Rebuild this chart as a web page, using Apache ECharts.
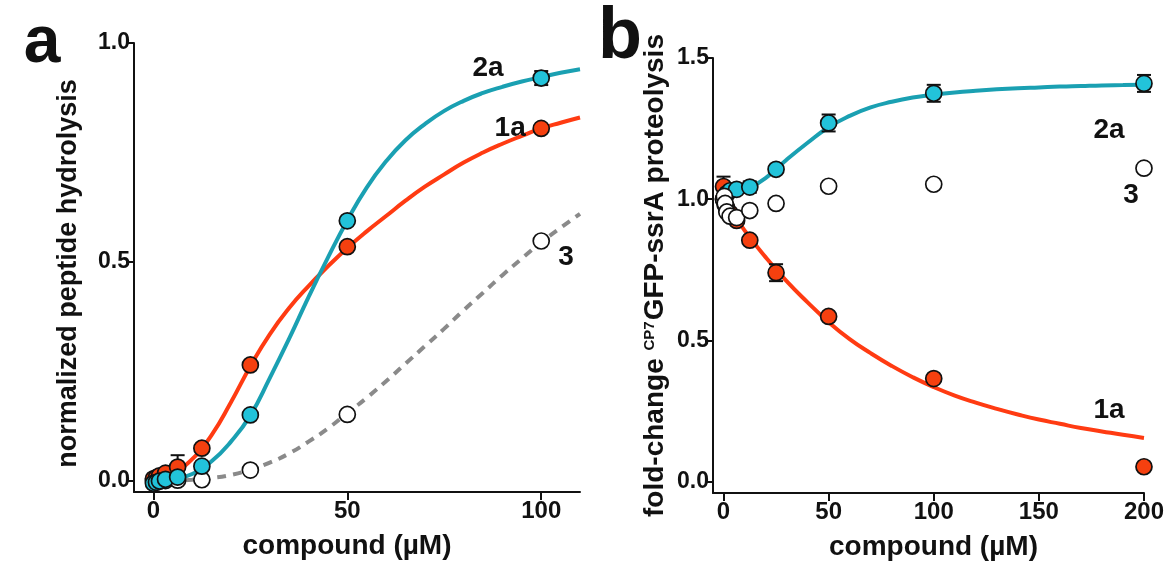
<!DOCTYPE html>
<html>
<head>
<meta charset="utf-8">
<script src="https://cdn.jsdelivr.net/npm/echarts@6/dist/echarts.min.js"></script>
<style>
  html, body { margin: 0; background: #fff; }
  #chart { width: 1167px; height: 568px; }
</style>
</head>
<body>
<div id="chart"></div>
<script>
// panel a: peptide hydrolysis
var aDose = [0, 0.78, 1.56, 3.125, 6.25, 12.5, 25, 50, 100];
var a1a = [0.005, 0.008, 0.012, 0.018, 0.032, 0.075, 0.265, 0.535, 0.805];
var a1aErr = [0, 0, 0, 0, 0.027, 0, 0, 0, 0];
var a2a = [-0.005, -0.003, 0.0, 0.004, 0.009, 0.034, 0.151, 0.594, 0.92];
var a2aErr = [0, 0, 0, 0, 0, 0, 0, 0, 0.016];
var a3 = [0, 0, 0, 0.001, 0.002, 0.003, 0.025, 0.152, 0.548];

// fitted curves
var aFitX = [0, 5, 10, 15, 20, 25, 30, 35, 40, 45, 50, 55, 60, 65, 70, 75, 80, 85, 90, 95, 100, 105, 110];
var aFit1a = [0, 0.018, 0.05, 0.105, 0.18, 0.262, 0.335, 0.395, 0.445, 0.49, 0.532, 0.57, 0.605, 0.64, 0.672, 0.7,
  0.727, 0.75, 0.77, 0.788, 0.805, 0.818, 0.83];
var aFit2a = [0, 0.004, 0.016, 0.045, 0.09, 0.15, 0.235, 0.325, 0.42, 0.51, 0.595, 0.67, 0.73, 0.778, 0.815, 0.845,
  0.868, 0.886, 0.9, 0.912, 0.922, 0.932, 0.94];
var aFit3 = [0, 0.001, 0.003, 0.007, 0.014, 0.026, 0.042, 0.063, 0.09, 0.12, 0.155, 0.19, 0.228, 0.268, 0.308, 0.348,
  0.39, 0.43, 0.47, 0.508, 0.545, 0.578, 0.61];

// panel b: fold-change proteolysis
var bDose = [0, 0.39, 0.78, 1.56, 3.125, 6.25, 12.5, 25, 50, 100, 200];
var b1a = [1.045, 1.0, 0.98, 0.97, 0.95, 0.925, 0.855, 0.74, 0.585, 0.365, 0.053];
var b1aErr = [0.035, 0, 0, 0, 0, 0, 0, 0.03, 0, 0, 0];
var b2a = [1.0, 1.0, 1.01, 1.02, 1.03, 1.035, 1.043, 1.106, 1.27, 1.375, 1.41];
var b2aErr = [0, 0, 0, 0, 0, 0, 0.02, 0, 0.03, 0.03, 0.03];
var b3 = [1.0, 1.01, 0.985, 0.955, 0.94, 0.935, 0.96, 0.985, 1.046, 1.053, 1.11];

var bFitX = [0, 10, 20, 30, 40, 50, 60, 70, 80, 90, 100, 110, 120, 130, 140, 150, 160, 170, 180, 190, 200];
var bFit1a = [1.0, 0.89, 0.795, 0.71, 0.635, 0.565, 0.505, 0.455, 0.41, 0.37, 0.335, 0.305, 0.28, 0.258, 0.238,
  0.22, 0.205, 0.19, 0.178, 0.166, 0.155];
var bFit2a = [1.0, 1.03, 1.075, 1.14, 1.2, 1.255, 1.295, 1.325, 1.345, 1.36, 1.37, 1.378, 1.384, 1.389, 1.393,
  1.396, 1.399, 1.401, 1.403, 1.404, 1.405];

// curve labels, in data units
var aLabels = [['2a', 86.3, 0.943], ['1a', 92, 0.806], ['3', 106.4, 0.511]];
var bLabels = [['2a', 183.4, 1.245], ['3', 193.9, 1.015], ['1a', 183.4, 0.254]];

var red = '#f5400f', redLine = '#ff3b12';
var cyan = '#22c3da', cyanLine = '#1aa0b2';
var font = '"Liberation Sans", Arial, sans-serif';

function pairs(xs, ys) {
  return xs.map(function (x, i) { return [x, ys[i]]; });
}

function errPts(xs, ys, es) {
  var out = [];
  xs.forEach(function (x, i) { if (es[i] > 0) out.push([x, ys[i], es[i]]); });
  return out;
}

function errBars(idx, pts) {
  return {
    type: 'custom', xAxisIndex: idx, yAxisIndex: idx, z: 3, silent: true,
    data: pts,
    renderItem: function (params, api) {
      var x = api.value(0), y = api.value(1), e = api.value(2);
      var t = api.coord([x, y + e]), b = api.coord([x, y - e]);
      var hw = 7, st = { stroke: '#111', lineWidth: 2 };
      return {
        type: 'group',
        children: [
          { type: 'line', shape: { x1: t[0], y1: t[1], x2: b[0], y2: b[1] }, style: st },
          { type: 'line', shape: { x1: t[0] - hw, y1: t[1], x2: t[0] + hw, y2: t[1] }, style: st },
          { type: 'line', shape: { x1: b[0] - hw, y1: b[1], x2: b[0] + hw, y2: b[1] }, style: st }
        ]
      };
    }
  };
}

function fit(idx, xs, ys, color, dashed) {
  return {
    type: 'line', xAxisIndex: idx, yAxisIndex: idx, z: 2,
    data: pairs(xs, ys), smooth: 0.5, showSymbol: false, silent: true,
    lineStyle: { color: color, width: 4, type: dashed ? [9, 7] : 'solid' }
  };
}

function dots(idx, xs, ys, fill, z) {
  return {
    type: 'scatter', xAxisIndex: idx, yAxisIndex: idx, z: z,
    data: pairs(xs, ys), symbolSize: 16,
    itemStyle: { color: fill, borderColor: '#111', borderWidth: 1.7, opacity: 1 }
  };
}

function tags(idx, list) {
  return {
    type: 'custom', xAxisIndex: idx, yAxisIndex: idx, z: 6, silent: true,
    data: list.map(function (l) { return [l[1], l[2], l[0]]; }),
    renderItem: function (params, api) {
      var p = api.coord([api.value(0), api.value(1)]);
      return {
        type: 'text', x: p[0], y: p[1],
        style: {
          text: list[params.dataIndex][0], font: 'bold 28px ' + font, fill: '#111',
          align: 'center', verticalAlign: 'middle'
        }
      };
    }
  };
}

var axisCommon = {
  axisLine: { show: true, onZero: false, lineStyle: { color: '#111', width: 2 } },
  axisTick: { show: true, length: 8, lineStyle: { color: '#111', width: 2 } },
  splitLine: { show: false },
  nameLocation: 'middle',
  nameTextStyle: { fontFamily: font, fontWeight: 'bold', fontSize: 28, color: '#111' }
};

function xAx(idx, min, max, ticks, pad) {
  return Object.assign({}, axisCommon, {
    type: 'value', gridIndex: idx, min: min, max: max,
    name: 'compound (µM)', nameGap: 40,
    nameTextStyle: Object.assign({}, axisCommon.nameTextStyle, { padding: pad }),
    axisTick: Object.assign({}, axisCommon.axisTick, { customValues: ticks }),
    axisLabel: {
      customValues: ticks, margin: 7, fontFamily: font, fontWeight: 'bold', fontSize: 24, color: '#111'
    }
  });
}

function yAx(idx, min, max, ticks, name, gap, style) {
  return Object.assign({}, axisCommon, {
    type: 'value', gridIndex: idx, min: min, max: max,
    name: name, nameGap: gap,
    nameTextStyle: Object.assign({}, axisCommon.nameTextStyle, style),
    axisTick: Object.assign({}, axisCommon.axisTick, { customValues: ticks }),
    axisLabel: {
      customValues: ticks, margin: 4, fontFamily: font, fontWeight: 'bold', fontSize: 23, color: '#111',
      formatter: function (v) { return v.toFixed(1); }
    }
  });
}

var chart = echarts.init(document.getElementById('chart'));
chart.setOption({
  animation: false,
  backgroundColor: '#fff',
  grid: [
    { left: 134, top: 43, width: 446, height: 449 },
    { left: 713, top: 58, width: 432, height: 435 }
  ],
  xAxis: [
    xAx(0, -5, 110, [0, 50, 100], [0, 20, 0, 0]),
    xAx(1, -5, 200, [0, 50, 100, 150, 200], [0, 0, 0, 10])
  ],
  yAxis: [
    yAx(0, -0.025, 1.0, [0, 0.5, 1.0], 'normalized peptide hydrolysis', 52,
      { fontSize: 27, padding: [0, 12, 0, 0] }),
    yAx(1, -0.04, 1.5, [0, 0.5, 1.0, 1.5], '{t|fold-change }{s|CP7}{t|GFP-ssrA proteolysis}', 44, {
      rich: {
        t: { fontFamily: font, fontWeight: 'bold', fontSize: 28, color: '#111' },
        s: { fontFamily: font, fontWeight: 'bold', fontSize: 15, color: '#111', padding: [0, 1, 11, 0] }
      }
    })
  ],
  graphic: [
    { type: 'text', x: 42, y: 44, style: { text: 'a', font: 'bold 66px ' + font, fill: '#111', align: 'center', verticalAlign: 'middle' } },
    { type: 'text', x: 620, y: 38, style: { text: 'b', font: 'bold 72px ' + font, fill: '#111', align: 'center', verticalAlign: 'middle' } }
  ],
  series: [
    fit(0, aFitX, aFit3, '#8a8a8a', true),
    fit(0, aFitX, aFit1a, redLine),
    fit(0, aFitX, aFit2a, cyanLine),
    errBars(0, errPts(aDose, a1a, a1aErr).concat(errPts(aDose, a2a, a2aErr))),
    dots(0, aDose, a3, '#fff', 4),
    dots(0, aDose, a1a, red, 4),
    dots(0, aDose, a2a, cyan, 5),
    tags(0, aLabels),

    fit(1, bFitX, bFit1a, redLine),
    fit(1, bFitX, bFit2a, cyanLine),
    errBars(1, errPts(bDose, b1a, b1aErr).concat(errPts(bDose, b2a, b2aErr))),
    dots(1, bDose, b1a, red, 4),
    dots(1, bDose, b2a, cyan, 4),
    dots(1, bDose, b3, '#fff', 5),
    tags(1, bLabels)
  ]
});
</script>
</body>
</html>
